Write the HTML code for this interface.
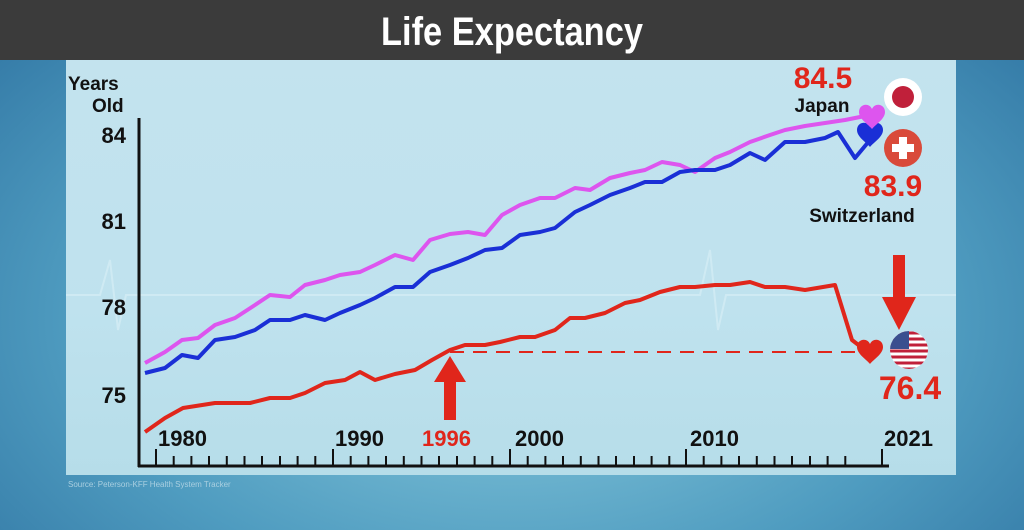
<!DOCTYPE html>
<html><head><meta charset="utf-8"><style>
body{margin:0;width:1024px;height:530px;overflow:hidden;background:radial-gradient(ellipse at 50% 60%,#8fcfe0 0%,#4f9cc0 60%,#2f74a2 100%);font-family:"Liberation Sans",sans-serif}
#top{position:absolute;left:0;top:0;width:1024px;height:60px;background:#3b3b3b}
#top span{position:absolute;left:0;width:1024px;text-align:center;color:#fff;font-weight:bold;font-size:40px;line-height:64px;transform:scaleX(0.86)}
#panel{position:absolute;left:66px;top:60px;width:890px;height:415px;background:linear-gradient(180deg,#c3e3ee,#bfe2ee 60%,#b6dde9)}
svg{position:absolute;left:0;top:0}
</style></head><body>
<div id="top"><span>Life Expectancy</span></div>
<div id="panel"></div>
<svg width="1024" height="530" font-family="Liberation Sans, sans-serif" font-weight="bold">
<polyline points="66,295 100,295 110,260 118,330 126,295 700,295 710,250 718,330 726,295 956,295" fill="none" stroke="#d6eef5" stroke-width="2" opacity="0.7"/>
<text x="68" y="90" font-size="19" fill="#111">Years</text>
<text x="92" y="112" font-size="19" fill="#111">Old</text>
<g font-size="22" fill="#111" text-anchor="end">
<text x="126" y="143">84</text><text x="126" y="229">81</text><text x="126" y="315">78</text><text x="126" y="403">75</text></g>
<line x1="139" y1="118" x2="139" y2="467" stroke="#111" stroke-width="3"/>
<line x1="138" y1="466" x2="889" y2="466" stroke="#111" stroke-width="3"/>
<g stroke="#111" stroke-width="2">
<path d="M156,466V449M333,466V449M510,466V449M686,466V449M882,466V449"/>
<path id="mt" d="M173.7,466V456M191.4,466V456M209,466V456M226.8,466V456M244.5,466V456M262,466V456M280,466V456M297.6,466V456M315.3,466V456"/>
<use href="#mt" x="177"/><use href="#mt" x="354"/><use href="#mt" x="530"/>
</g>
<g font-size="22" fill="#111"><text x="158" y="446">1980</text><text x="335" y="446">1990</text><text x="515" y="446">2000</text><text x="690" y="446">2010</text><text x="884" y="446">2021</text></g>
<text x="422" y="446" font-size="22" fill="#e0261b">1996</text>
<line x1="450" y1="352" x2="862" y2="352" stroke="#e0261b" stroke-width="2" stroke-dasharray="14,9"/>
<polyline fill="none" stroke="#dd55ee" stroke-width="4" stroke-linejoin="round" points="145,363 165,352 182,340 198,338 215,325 235,318 255,305 270,295 290,297 305,285 325,280 340,275 360,272 375,265 395,255 413,260 430,240 450,234 468,232 485,235 502,215 520,205 540,198 555,198 575,188 590,190 610,178 630,173 645,170 662,162 680,165 695,172 715,158 730,152 750,142 770,135 785,130 805,126 825,123 845,120 865,116"/>
<polyline fill="none" stroke="#1a2fd6" stroke-width="4" stroke-linejoin="round" points="145,373 165,368 182,355 198,358 215,340 235,337 255,330 270,320 290,320 305,315 325,320 340,313 360,305 375,298 395,287 413,287 430,272 450,265 468,258 485,250 502,248 520,235 540,232 555,228 575,212 590,205 610,195 630,188 645,182 662,182 680,172 695,170 715,170 730,165 750,153 765,160 785,142 805,142 825,138 838,132 855,158 870,140"/>
<polyline fill="none" stroke="#e0261b" stroke-width="4" stroke-linejoin="round" points="145,432 165,418 183,408 215,403 250,403 270,398 290,398 305,393 325,383 345,380 360,372 375,380 395,374 415,370 432,360 450,350 465,345 485,345 500,342 520,337 535,337 555,330 570,318 585,318 605,313 625,303 640,300 660,292 680,287 695,287 715,285 730,285 750,282 765,287 785,287 805,290 835,285 852,340 865,350"/>
<g>
<path d="M870,147 c-4,-5 -13,-10 -13,-17 c0,-8 10,-10 13,-3 c3,-7 13,-5 13,3 c0,7 -9,12 -13,17z" fill="#1a2fd6"/>
<path d="M872,129 c-4,-5 -13,-10 -13,-17 c0,-8 10,-10 13,-3 c3,-7 13,-5 13,3 c0,7 -9,12 -13,17z" fill="#dd55ee"/>
<path d="M870,364 c-4,-5 -13,-10 -13,-17 c0,-8 10,-10 13,-3 c3,-7 13,-5 13,3 c0,7 -9,12 -13,17z" fill="#e0261b"/>
</g>
<circle cx="903" cy="97" r="19" fill="#fff"/><circle cx="903" cy="97" r="11" fill="#c0203a"/>
<circle cx="903" cy="148" r="19" fill="#d94a3a"/><path d="M899,137h8v7h7v8h-7v7h-8v-7h-7v-8h7z" fill="#fff"/>
<clipPath id="c"><circle cx="909" cy="350" r="19"/></clipPath>
<g clip-path="url(#c)"><rect x="888" y="330" width="42" height="40" fill="#fff"/>
<path d="M888,333h42M888,339h42M888,345h42M888,351h42M888,357h42M888,363h42M888,369h42" stroke="#c0203a" stroke-width="3"/>
<rect x="888" y="330" width="21" height="19" fill="#3a4f8f"/></g>
<path d="M893,255h12v42h11l-17,33l-17,-33h11z" fill="#e0261b"/>
<path d="M444,420h12v-38h10l-16,-26l-16,26h10z" fill="#e0261b"/>
<g text-anchor="middle">
<text x="823" y="88" font-size="30" fill="#e0261b">84.5</text>
<text x="822" y="112" font-size="19" fill="#111">Japan</text>
<text x="893" y="196" font-size="30" fill="#e0261b">83.9</text>
<text x="862" y="222" font-size="19" fill="#111">Switzerland</text>
<text x="910" y="399" font-size="32" fill="#e0261b">76.4</text></g>
<text x="68" y="487" font-size="8" fill="#a9cfe0" font-weight="normal">Source: Peterson-KFF Health System Tracker</text>
</svg>
</body></html>
